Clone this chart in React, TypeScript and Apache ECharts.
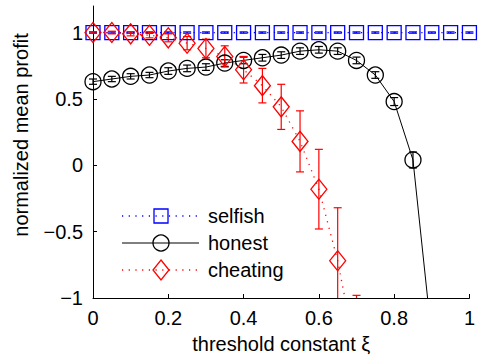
import React, { useEffect, useRef } from "react";
import * as echarts from "echarts";

// threshold constant values
const xValues = [0, 0.05, 0.1, 0.15, 0.2, 0.25, 0.3, 0.35, 0.4, 0.45, 0.5, 0.55, 0.6, 0.65, 0.7, 0.75, 0.8, 0.85, 0.9, 0.95, 1];

// selfish strategy: mean profit and error
const selfishMean = [1, 1, 1, 1, 1, 1, 1, 1, 1, 1, 1, 1, 1, 1, 1, 1, 1, 1, 1, 1, 1];
const selfishErr = [0.005, 0.005, 0.005, 0.005, 0.005, 0.005, 0.005, 0.005, 0.005, 0.005, 0.005, 0.005, 0.005, 0.005, 0.005, 0.005, 0.005, 0.005, 0.005, 0.005, 0.005];

// honest strategy (first 19 thresholds)
const honestMean = [0.63, 0.65, 0.67, 0.68, 0.71, 0.73, 0.74, 0.77, 0.79, 0.81, 0.83, 0.86, 0.87, 0.86, 0.79, 0.68, 0.48, 0.04, -1.3];
const honestErr = [0.02, 0.02, 0.02, 0.02, 0.025, 0.025, 0.025, 0.025, 0.025, 0.025, 0.025, 0.025, 0.025, 0.025, 0.025, 0.025, 0.03, 0.06, 0.1];

// cheating strategy (first 15 thresholds)
const cheatingMean = [1.0, 1.0, 0.99, 0.98, 0.96, 0.92, 0.88, 0.82, 0.72, 0.6, 0.44, 0.18, -0.18, -0.72, -1.45];
const cheatingErr = [0.005, 0.01, 0.015, 0.02, 0.03, 0.05, 0.07, 0.08, 0.1, 0.13, 0.17, 0.23, 0.3, 0.4, 0.47];

const yTicks = [-1, -0.5, 0, 0.5, 1];
const xTicks = [0, 0.2, 0.4, 0.6, 0.8, 1];

const Y_MIN = -1;
const Y_MAX = 1.2;
const FONT = '"Liberation Sans", Arial, Helvetica, sans-serif';
const FS = 20;
const BLUE = "#0000ff";
const RED = "#ff0000";
const BLACK = "#000000";
const DOT: number[] = [1.2, 5.5];

const fmt = (v: number) => {
  const s = String(Math.abs(v));
  return v < 0 ? "\u2212" + s : s;
};

function errorSeries(means: number[], errs: number[], color: string) {
  return {
    type: "custom",
    data: means.map((m, i) => [xValues[i], m, errs[i]]),
    encode: { x: 0, y: 1 },
    silent: true,
    renderItem: (_params: any, api: any) => {
      const x = api.value(0);
      const m = api.value(1);
      const e = api.value(2);
      let lo = m - e;
      let hi = m + e;
      if (hi < Y_MIN || lo > Y_MAX) return null;
      const loClip = lo < Y_MIN;
      const hiClip = hi > Y_MAX;
      lo = Math.max(lo, Y_MIN);
      hi = Math.min(hi, Y_MAX);
      const pLo = api.coord([x, lo]);
      const pHi = api.coord([x, hi]);
      const st = { stroke: color, lineWidth: 1.2 };
      const children: any[] = [
        { type: "line", shape: { x1: pLo[0], y1: pLo[1], x2: pHi[0], y2: pHi[1] }, style: st },
      ];
      const cap = 4;
      if (!loClip) children.push({ type: "line", shape: { x1: pLo[0] - cap, y1: pLo[1], x2: pLo[0] + cap, y2: pLo[1] }, style: st });
      if (!hiClip) children.push({ type: "line", shape: { x1: pHi[0] - cap, y1: pHi[1], x2: pHi[0] + cap, y2: pHi[1] }, style: st });
      return { type: "group", children };
    },
  };
}

function lineSeries(name: string, means: number[], color: string, symbol: string, size: any, dotted: boolean) {
  return {
    name,
    type: "line",
    data: means.map((m, i) => [xValues[i], m]),
    symbol,
    symbolSize: size,
    showAllSymbol: true,
    clip: true,
    lineStyle: { color, width: dotted ? 1.3 : 1, type: dotted ? DOT : "solid" },
    itemStyle: { color: "rgba(0,0,0,0)", borderColor: color, borderWidth: 1.3 },
  };
}

function legendRow(y: number, label: string, color: string, dotted: boolean, marker: any) {
  return [
    {
      type: "line",
      shape: { x1: 122, y1: y, x2: 199, y2: y },
      style: { stroke: color, lineWidth: dotted ? 1.3 : 1, lineDash: dotted ? DOT : null },
    },
    marker,
    {
      type: "text",
      x: 208,
      y,
      style: { text: label, fill: BLACK, font: `${FS}px ${FONT}`, verticalAlign: "middle", align: "left" },
    },
  ];
}

export default function App() {
  const ref = useRef<HTMLDivElement>(null);

  useEffect(() => {
    if (!ref.current) return;
    const chart = echarts.init(ref.current, undefined, { renderer: "svg" });
    const mk = { fill: "rgba(0,0,0,0)", lineWidth: 1.3 };
    chart.setOption({
      animation: false,
      backgroundColor: "#ffffff",
      grid: { left: 93, right: 7, top: 6, bottom: 62 },
      xAxis: {
        type: "value",
        min: 0,
        max: 1,
        interval: 0.2,
        name: "threshold constant \u03be",
        nameLocation: "middle",
        nameGap: 36,
        nameTextStyle: { fontFamily: FONT, fontSize: FS, color: BLACK },
        axisLine: { onZero: false, lineStyle: { color: BLACK, width: 1 } },
        axisTick: { inside: true, length: 4, lineStyle: { color: BLACK }, customValues: xTicks },
        axisLabel: { fontFamily: FONT, fontSize: FS, color: BLACK, margin: 10, formatter: (v: number) => fmt(v), customValues: xTicks },
        splitLine: { show: false },
      },
      yAxis: {
        type: "value",
        min: Y_MIN,
        max: Y_MAX,
        interval: 0.5,
        axisLine: { show: true, onZero: false, lineStyle: { color: BLACK, width: 1 } },
        axisTick: { show: true, inside: true, length: 4, lineStyle: { color: BLACK }, customValues: yTicks },
        axisLabel: { fontFamily: FONT, fontSize: FS, color: BLACK, margin: 10, formatter: (v: number) => fmt(v), customValues: yTicks },
        splitLine: { show: false },
      },
      graphic: [
        {
          type: "text",
          x: 21,
          y: 135,
          rotation: Math.PI / 2,
          style: { text: "normalized mean profit", fill: BLACK, font: `${FS}px ${FONT}`, align: "center", verticalAlign: "middle" },
        },
        ...legendRow(216, "selfish", BLUE, true, {
          type: "rect",
          shape: { x: 154, y: 209, width: 14, height: 14 },
          style: { ...mk, stroke: BLUE },
        }),
        ...legendRow(243, "honest", BLACK, false, {
          type: "circle",
          shape: { cx: 161, cy: 243, r: 8 },
          style: { ...mk, stroke: BLACK },
        }),
        ...legendRow(270, "cheating", RED, true, {
          type: "polygon",
          shape: { points: [[161, 260], [169, 270], [161, 280], [153, 270]] },
          style: { ...mk, stroke: RED },
        }),
      ],
      series: [
        lineSeries("selfish", selfishMean, BLUE, "rect", 14, true),
        errorSeries(selfishMean, selfishErr, BLUE),
        lineSeries("honest", honestMean, BLACK, "circle", 16, false),
        errorSeries(honestMean, honestErr, BLACK),
        lineSeries("cheating", cheatingMean, RED, "diamond", [16, 20], true),
        errorSeries(cheatingMean, cheatingErr, RED),
      ],
    });
    return () => chart.dispose();
  }, []);

  return <div ref={ref} style={{ width: 478, height: 360, position: "absolute", left: 0, top: 0 }} />;
}
